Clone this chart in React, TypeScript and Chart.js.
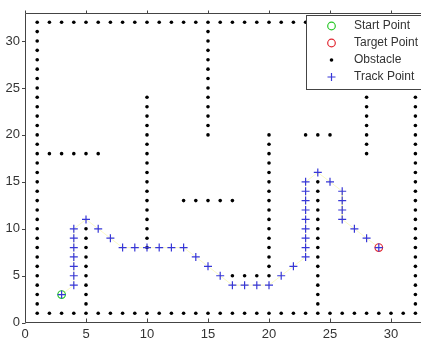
import { useEffect, useRef } from 'react';
import { Chart, registerables } from 'chart.js';

Chart.register(...registerables);

const X_MIN = 0;
const X_MAX = 33;
const Y_MIN = 0;
const Y_MAX = 33;
const xTicks = [0, 5, 10, 15, 20, 25, 30];
const yTicks = [0, 5, 10, 15, 20, 25, 30];

const startX = [3];
const startY = [3];
const targetX = [29];
const targetY = [8];

const trackX = [3, 4, 4, 4, 4, 4, 4, 4, 5, 6, 7, 8, 9, 10, 11, 12, 13, 14, 15, 16, 17, 18, 19, 20, 21, 22, 23, 23, 23, 23, 23, 23, 23, 23, 23, 24, 25, 26, 26, 26, 26, 27, 28, 29];
const trackY = [3, 4, 5, 6, 7, 8, 9, 10, 11, 10, 9, 8, 8, 8, 8, 8, 8, 7, 6, 5, 4, 4, 4, 4, 5, 6, 7, 8, 9, 10, 11, 12, 13, 14, 15, 16, 15, 14, 13, 12, 11, 10, 9, 8];

// horizontal obstacle walls (x values, fixed y)
const bottomWallX = [1, 2, 3, 4, 5, 6, 7, 8, 9, 10, 11, 12, 13, 14, 15, 16, 17, 18, 19, 20, 21, 22, 23, 24, 25, 26, 27, 28, 29, 30, 31, 32];
const bottomWallY = 1;
const topWallX = [1, 2, 3, 4, 5, 6, 7, 8, 9, 10, 11, 12, 13, 14, 15, 16, 17, 18, 19, 20, 21, 22, 23, 24, 25, 26, 27, 28, 29, 30, 31, 32];
const topWallY = 32;
const ledgeX = [2, 3, 4, 5, 6];
const ledgeY = 18;
const shelf13X = [13, 14, 15, 16, 17];
const shelf13Y = 13;
const floor5X = [17, 18, 19];
const floor5Y = 5;
const shelf20X = [23, 24, 25];
const shelf20Y = 20;

// vertical obstacle walls (fixed x, y values)
const leftWallX = 1;
const leftWallY = [2, 3, 4, 5, 6, 7, 8, 9, 10, 11, 12, 13, 14, 15, 16, 17, 18, 19, 20, 21, 22, 23, 24, 25, 26, 27, 28, 29, 30, 31];
const rightWallX = 32;
const rightWallY = [2, 3, 4, 5, 6, 7, 8, 9, 10, 11, 12, 13, 14, 15, 16, 17, 18, 19, 20, 21, 22, 23, 24, 25, 26, 27, 28, 29, 30, 31];
const wall5X = 5;
const wall5Y = [2, 3, 4, 5, 6, 7, 8, 9, 10];
const wall10X = 10;
const wall10Y = [8, 9, 10, 11, 12, 13, 14, 15, 16, 17, 18, 19, 20, 21, 22, 23, 24];
const wall15X = 15;
const wall15Y = [20, 21, 22, 23, 24, 25, 26, 27, 28, 29, 30, 31];
const wall20X = 20;
const wall20Y = [5, 6, 7, 8, 9, 10, 11, 12, 13, 14, 15, 16, 17, 18, 19, 20];
const wall24X = 24;
const wall24Y = [2, 3, 4, 5, 6, 7, 8, 9, 10, 11, 12, 13, 14, 15];
const wall28X = 28;
const wall28Y = [18, 19, 20, 21, 22, 23, 24];

const legendLabels = ['Start Point', 'Target Point', 'Obstacle', 'Track Point'];

const FONT = '"Liberation Sans", Arial, Helvetica, sans-serif';
const TRACK_COLOR = 'rgb(55,55,215)';
const START_COLOR = 'rgb(40,200,40)';
const TARGET_COLOR = 'rgb(225,40,50)';

const hRow = (xs: number[], y: number) => xs.map((x) => ({ x, y }));
const vCol = (x: number, ys: number[]) => ys.map((y) => ({ x, y }));

const framePlugin = {
  id: 'matlabFrame',
  afterDatasetsDraw(chart: any) {
    const { ctx, chartArea, scales } = chart;
    const l = Math.round(chartArea.left) + 0.5;
    const r = Math.round(chartArea.right) + 0.5;
    const t = Math.round(chartArea.top) + 0.5;
    const b = Math.round(chartArea.bottom) - 0.5;
    ctx.save();
    ctx.strokeStyle = '#444';
    ctx.lineWidth = 1;
    ctx.beginPath();
    ctx.moveTo(l, t);
    ctx.lineTo(r, t);
    ctx.lineTo(r, b);
    ctx.lineTo(l, b);
    ctx.closePath();
    ctx.stroke();
    ctx.beginPath();
    xTicks.forEach((v) => {
      const px = Math.round(scales.x.getPixelForValue(v)) + 0.5;
      ctx.moveTo(px, b);
      ctx.lineTo(px, b - 4);
      ctx.moveTo(px, t);
      ctx.lineTo(px, t - 3);
    });
    yTicks.forEach((v) => {
      const py = Math.round(scales.y.getPixelForValue(v)) + 0.5;
      ctx.moveTo(l, py);
      ctx.lineTo(l - 3.5, py);
    });
    ctx.stroke();
    ctx.restore();
  },
};

const legendPlugin = {
  id: 'matlabLegend',
  afterDraw(chart: any) {
    const ctx = chart.ctx;
    ctx.save();
    const bx = 306.5;
    const by = 15.5;
    const bw = 130;
    const bh = 74;
    ctx.fillStyle = '#fff';
    ctx.fillRect(bx, by, bw, bh);
    ctx.strokeStyle = '#444';
    ctx.lineWidth = 1;
    ctx.strokeRect(bx, by, bw, bh);
    const mx = 331.5;
    const tx = 354;
    const ys = [26, 43, 60, 77];
    ctx.font = `12px ${FONT}`;
    ctx.textBaseline = 'middle';
    ctx.textAlign = 'left';
    legendLabels.forEach((label, i) => {
      const y = ys[i];
      ctx.lineWidth = 1.2;
      if (i === 0 || i === 1) {
        ctx.strokeStyle = i === 0 ? START_COLOR : TARGET_COLOR;
        ctx.beginPath();
        ctx.arc(mx, y, 3.8, 0, Math.PI * 2);
        ctx.stroke();
      } else if (i === 2) {
        ctx.fillStyle = '#000';
        ctx.beginPath();
        ctx.arc(mx, y, 1.8, 0, Math.PI * 2);
        ctx.fill();
      } else {
        ctx.strokeStyle = TRACK_COLOR;
        ctx.beginPath();
        ctx.moveTo(mx - 4, y);
        ctx.lineTo(mx + 4, y);
        ctx.moveTo(mx, y - 4);
        ctx.lineTo(mx, y + 4);
        ctx.stroke();
      }
      ctx.fillStyle = '#333';
      ctx.fillText(label, tx, y);
    });
    ctx.restore();
  },
};

export default function App() {
  const canvasRef = useRef<HTMLCanvasElement | null>(null);

  useEffect(() => {
    if (!canvasRef.current) return;
    const obstacles = [
      ...hRow(bottomWallX, bottomWallY),
      ...hRow(topWallX, topWallY),
      ...vCol(leftWallX, leftWallY),
      ...vCol(rightWallX, rightWallY),
      ...hRow(ledgeX, ledgeY),
      ...hRow(shelf13X, shelf13Y),
      ...hRow(floor5X, floor5Y),
      ...hRow(shelf20X, shelf20Y),
      ...vCol(wall5X, wall5Y),
      ...vCol(wall10X, wall10Y),
      ...vCol(wall15X, wall15Y),
      ...vCol(wall20X, wall20Y),
      ...vCol(wall24X, wall24Y),
      ...vCol(wall28X, wall28Y),
    ];
    const track = trackX.map((x, i) => ({ x, y: trackY[i] }));
    const start = startX.map((x, i) => ({ x, y: startY[i] }));
    const target = targetX.map((x, i) => ({ x, y: targetY[i] }));

    const tickFont = { family: FONT, size: 13 };

    const chart = new Chart(canvasRef.current, {
      type: 'scatter',
      data: {
        datasets: [
          {
            label: 'Track Point',
            data: track,
            pointStyle: 'cross',
            pointRadius: 4,
            borderColor: TRACK_COLOR,
            backgroundColor: TRACK_COLOR,
            pointBorderWidth: 1.2,
            order: 0,
          } as any,
          {
            label: 'Start Point',
            data: start,
            pointStyle: 'circle',
            pointRadius: 3.8,
            borderColor: START_COLOR,
            backgroundColor: 'rgba(0,0,0,0)',
            pointBorderWidth: 1.2,
            order: 1,
          },
          {
            label: 'Target Point',
            data: target,
            pointStyle: 'circle',
            pointRadius: 3.8,
            borderColor: TARGET_COLOR,
            backgroundColor: 'rgba(0,0,0,0)',
            pointBorderWidth: 1.2,
            order: 1,
          },
          {
            label: 'Obstacle',
            data: obstacles,
            pointStyle: 'circle',
            pointRadius: 1.8,
            borderWidth: 0,
            backgroundColor: '#000',
            borderColor: '#000',
            order: 2,
          },
          {
            label: 'path',
            data: track,
            showLine: true,
            pointRadius: 0,
            borderColor: 'rgba(245,245,150,0.55)',
            borderWidth: 1,
            order: 3,
          } as any,
        ],
      },
      options: {
        responsive: false,
        animation: false,
        devicePixelRatio: 1,
        events: [],
        layout: { padding: { left: 0, top: 8.3, right: 12.4, bottom: 0 } },
        plugins: {
          legend: { display: false },
          tooltip: { enabled: false },
        },
        scales: {
          x: {
            type: 'linear',
            min: X_MIN,
            max: X_MAX,
            grid: { display: false, drawTicks: false },
            border: { display: false },
            ticks: { color: '#333', font: tickFont, padding: 4, maxRotation: 0, autoSkip: false },
            afterBuildTicks: (s: any) => {
              s.ticks = xTicks.map((v) => ({ value: v }));
            },
            afterFit: (s: any) => {
              s.height = 16.3;
            },
          },
          y: {
            type: 'linear',
            min: Y_MIN,
            max: Y_MAX,
            grid: { display: false, drawTicks: false },
            border: { display: false },
            ticks: { color: '#333', font: tickFont, padding: 5, autoSkip: false },
            afterBuildTicks: (s: any) => {
              s.ticks = yTicks.map((v) => ({ value: v }));
            },
            afterFit: (s: any) => {
              s.width = 25;
            },
          },
        },
      },
      plugins: [framePlugin, legendPlugin],
    });
    return () => chart.destroy();
  }, []);

  return (
    <div
      style={{
        position: 'fixed',
        left: 0,
        top: 0,
        width: 421,
        height: 339,
        overflow: 'hidden',
        background: '#fff',
      }}
    >
      <canvas ref={canvasRef} width={440} height={339} style={{ display: 'block', width: 440, height: 339 }} />
    </div>
  );
}
